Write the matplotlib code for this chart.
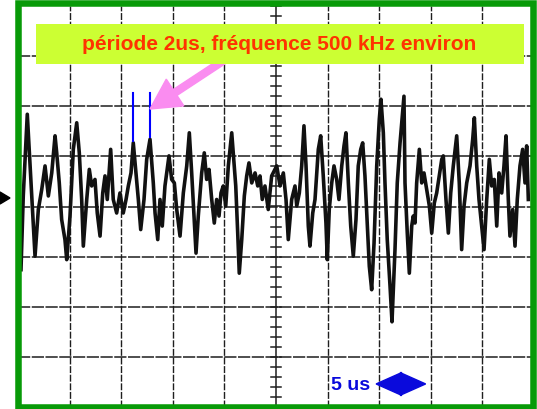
import matplotlib
matplotlib.use("Agg")
import matplotlib.pyplot as plt
from matplotlib.patches import Rectangle, Polygon, FancyArrow
import numpy as np

plt.rcParams['font.family'] = ['Liberation Sans', 'DejaVu Sans']

# ---- data (time in us, amplitude in divisions) ----
t_us = [0.29, 0.51, 0.90, 1.65, 1.97, 2.30, 2.62, 2.94, 3.27, 3.59, 3.75, 4.00, 4.23, 4.55, 4.72,
        5.04, 5.36, 5.69, 5.94, 6.17, 6.33, 6.66, 6.91, 7.14, 7.46, 7.68, 7.95, 8.21, 8.43, 8.65,
        8.98, 9.23, 9.56, 9.88, 10.20, 10.47, 10.69, 10.95, 11.17, 11.43, 11.66, 11.89, 12.21, 12.47,
        12.79, 13.11, 13.28, 13.54, 13.76, 13.98, 14.24, 14.63, 14.89, 15.15, 15.38, 15.70, 16.02,
        16.35, 16.60, 16.83, 17.05, 17.25, 17.47, 17.80, 18.05, 18.28, 18.51, 18.77, 19.02, 19.25,
        19.48, 19.67, 19.89, 20.13, 20.38, 20.71, 20.86, 21.10, 21.29, 21.44, 21.68, 21.93, 22.16,
        22.38, 22.65, 22.97, 23.23, 23.45, 23.67, 23.93, 24.25, 24.58, 25.07, 25.39, 25.71, 25.97,
        26.19, 26.52, 26.84, 27.01, 27.26, 27.49, 27.71, 27.91, 28.13, 28.29, 28.56, 28.78, 29.10,
        29.33, 29.58, 29.84, 29.97, 30.16, 30.40, 30.62, 30.88, 31.10, 31.37, 31.59, 31.78, 32.01,
        32.24, 32.49, 32.75, 32.97, 33.21, 33.40, 33.62, 33.85, 34.04, 34.27, 34.50, 34.76, 35.01,
        35.17, 35.40, 35.56, 35.78, 36.05, 36.24, 36.53, 36.75, 37.02, 37.40, 37.50, 37.72, 37.92,
        38.15, 38.30, 38.47, 38.63, 38.89, 39.12, 39.34, 39.60, 39.86, 40.09, 40.34, 40.57, 40.82,
        41.06, 41.21, 41.47, 41.70, 41.93, 42.18, 42.51, 42.76, 42.99, 43.22, 43.48, 43.80, 44.06,
        44.22, 44.45, 44.67, 44.93, 45.16, 45.42, 45.67, 45.90, 46.15, 46.39, 46.61, 46.87, 47.09,
        47.29, 47.51, 47.67, 47.94, 48.16, 48.38, 48.64, 48.90, 49.13, 49.29, 49.45]
v_div = [-1.26, 0.21, 1.84, -0.99, -0.06, 0.34, 0.81, 0.21, 0.67, 1.41, 1.07, 0.47, -0.26, -0.66, -1.06,
         -0.19, 1.14, 1.67, 1.07, 0.14, -0.79, 0.14, 0.74, 0.41, 0.54, -0.13, -0.59, 0.27, 0.61, 0.14,
         1.14, 0.14, -0.13, 0.27, -0.13, 0.14, 0.41, 0.67, 1.27, 0.67, 0.14, -0.46, 0.14, 0.94,
         1.34, 0.47, -0.13, -0.66, 0.14, -0.39, 0.41, 1.01, 0.54, 0.47, -0.06, -0.59, 0.27,
         0.81, 1.47, 0.67, -0.19, -0.93, -0.19, 0.67, 1.07, 0.54, 0.74, 0.14, -0.33, 0.14,
         -0.19, 0.27, 0.41, 0.01, 0.81, 1.47, 1.07, 0.41, -0.53, -1.33, -0.66, 0.21, 0.61,
         0.87, 0.47, 0.67, 0.41, 0.61, 0.14, 0.41, -0.06, 0.61, 0.81, 0.41, 0.67, 0.14,
         -0.66, 0.14, 0.41, 0.01, 0.27, 0.81, 1.61, 0.81, -0.39, -0.79, -0.13, 0.14, 1.14,
         1.41, 0.61, -0.33, -1.06, -0.06, 0.47, 0.81, 0.54, 0.14, 0.81, 1.21, 1.47, 0.47,
         -0.39, -0.99, -0.26, 0.81, 1.14, 1.27, 0.61, -0.39, -1.19, -1.66, -0.73, 0.81, 1.74,
         2.14, 1.47, 0.47, -0.66, -1.59, -2.30, -0.86, 0.47, 1.27, 2.20, 0.47, -0.53, -1.33,
         -0.39, -0.19, -0.33, 0.47, 1.14, 0.47, 0.67, 0.34, 0.01, -0.53, 0.07, 0.27, 0.61,
         0.94, 1.01, 0.14, -0.53, 0.27, 0.81, 1.41, 0.47, -0.86, 0.01, 0.47, 0.81, 1.34,
         1.77, 0.81, 0.14, -0.39, -0.86, 0.14, 0.94, 0.41, 0.54, -0.39, 0.67, 0.27, 0.81,
         1.41, 0.14, -0.59, -0.06, -0.79, 0.14, 0.81, 1.14, 0.47, 1.21, 0.14]

period_marks_us = [11.19, 12.79]
period_marks_bottom = [1.30, 1.38]
period_marks_top = 2.26
annotation_text = "période 2us, fréquence 500 kHz environ"
scale_text = "5 us"

W, H = 537, 410
fig = plt.figure(figsize=(W / 100, H / 100), dpi=100)
fig.patch.set_facecolor('white')

def px(x, y):
    return (x / W, 1 - y / H)

ax = fig.add_axes([18 / W, 2 / H, 516 / W, 401 / H])
ax.set_xlim(0, 50)
ax.set_ylim(-4, 4)
ax.axis('off')

grid_col = '#1e1e1e'
for t in range(5, 50, 5):
    if t == 25:
        ax.axvline(t, color=grid_col, lw=1.1, zorder=1)
    else:
        ax.axvline(t, color=grid_col, lw=1.0, ls=(0, (5, 1.2)), zorder=1)
for v in range(-3, 4):
    ax.axhline(v, color=grid_col, lw=1.1, ls=(0, (8, 1.0)), zorder=1)
for v in np.arange(-4, 4.001, 0.2):
    ax.plot([24.5, 25.5], [v, v], color=grid_col, lw=1.1, zorder=1)

ax.plot(t_us, v_div, color='#111111', lw=2.6, solid_joinstyle='round', zorder=3)

for t, b in zip(period_marks_us, period_marks_bottom):
    ax.plot([t, t], [b, period_marks_top], color='#0000ff', lw=1.5, zorder=4)

# scale indicator
ax.text(34.1, -3.55, scale_text, color='#0a0adc', fontsize=14, fontweight='bold',
        ha='right', va='center', zorder=5)
ax.add_patch(Polygon([[34.7, -3.54], [37.1, -3.32], [37.1, -3.76]], closed=True,
                     color='#0a0adc', zorder=5))
ax.add_patch(Polygon([[39.5, -3.54], [37.1, -3.32], [37.1, -3.76]], closed=True,
                     color='#0a0adc', zorder=5))
ax.plot([37.1, 37.1], [-3.32, -3.76], color='#0a0adc', lw=1.6, zorder=5)

# pink arrow
x0, y0 = px(226, 60)
x1, y1 = px(150, 110)
arr = FancyArrow(x0 * W, y0 * H, (x1 - x0) * W, (y1 - y0) * H, width=7, head_width=32,
                 head_length=30, length_includes_head=True, color='#fa8cf0', zorder=6)
arr.set_transform(matplotlib.transforms.IdentityTransform())
fig.add_artist(arr)

# label box
bx, by = px(36, 65)
fig.add_artist(Rectangle((bx, by), 488 / W, 40 / H, transform=fig.transFigure,
                         facecolor='#ccff33', edgecolor='none', zorder=7))
tx, ty = px(279, 45)
fig.text(tx, ty, annotation_text, color='#ff3300', fontsize=15, fontweight='bold',
         ha='center', va='center', zorder=8)

# left marker triangle
fig.add_artist(Polygon([px(0, 193), px(0, 205), px(10, 199)], closed=True,
                       transform=fig.transFigure, color='black', zorder=8))

# green frame
fx, fy = px(18, 408)
fig.add_artist(Rectangle((fx, fy), 514.5 / W, 404 / H, transform=fig.transFigure,
                         fill=False, edgecolor='#089a08', lw=4.7, zorder=9))

fig.savefig('out.png', dpi=100)
